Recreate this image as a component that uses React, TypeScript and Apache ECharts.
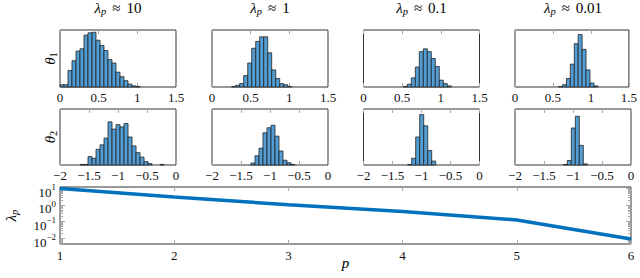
import React, { useEffect, useRef } from 'react';
import * as echarts from 'echarts';

// ---------- data ----------
const TITLE_VALUES = ['10', '1', '0.1', '0.01'];

const THETA1_BIN_WIDTH = 0.0517;
const THETA2_BIN_WIDTH = 0.069;
const THETA1_START = [0, 0.255, 0.515, 0.574];
const THETA2_START = [-1.655, -1.328, -1.238, -1.167];

const THETA1_COUNTS = [
  [4, 4, 29, 46, 63, 67, 91, 95, 96, 82, 73, 64, 48, 42, 26, 18, 11, 5, 2, 1],
  [1, 3, 6, 20, 42, 68, 80, 88, 88, 60, 30, 15, 6, 4, 1],
  [1, 5, 16, 35, 62, 67, 62, 50, 36, 12, 6, 2],
  [1, 4, 15, 40, 76, 92, 66, 30, 7, 2],
];
const THETA2_COUNTS = [
  [1, 1, 15, 12, 28, 36, 48, 77, 64, 72, 68, 74, 50, 34, 22, 14, 6, 2.5, 0, 0, 1],
  [3.5, 16.5, 30, 57.5, 66.5, 71, 51.5, 25, 8.5, 4, 1],
  [1, 12, 50, 90, 70, 26, 7],
  [1, 8, 66, 87, 35, 2],
];

const P_VALUES = [1, 2, 3, 4, 5, 6];
const LAMBDA = [9.6, 2.93, 1.0, 0.39, 0.123, 0.0087];

// ---------- style ----------
const SERIF = 'Liberation Serif';
const TXT = '#111';
const FRAME = '#333';
const TICK = '#a8a8a8';
const BAR = '#529dd4';
const LINE = '#0072bd';

const COL_LEFT = [60, 212, 363.5, 515];
const PANEL_W = 116;
const ROWS = [
  { top: 30, height: 57 },
  { top: 109, height: 56 },
];
const BOTTOM = { left: 60, top: 187, width: 571, height: 57 };
const LOG_MIN = 0.00437;
const LOG_MAX = 11.8;

const fmtNum = (v: number) => (v < 0 ? '\u2212' + String(Math.abs(v)) : String(v));

const richMath = {
  i: { fontFamily: SERIF, fontStyle: 'italic', fontSize: 15, lineHeight: 16, verticalAlign: 'top', color: TXT },
  s: { fontFamily: SERIF, fontStyle: 'italic', fontSize: 10.5, lineHeight: 10, padding: [6, 0, 0, 0], verticalAlign: 'top', color: TXT },
  n: { fontFamily: SERIF, fontSize: 10.5, lineHeight: 10, padding: [6, 0, 0, 0], verticalAlign: 'top', color: TXT },
  q: { fontFamily: SERIF, fontSize: 15, lineHeight: 16, padding: [0, 6, 0, 6], verticalAlign: 'top', color: TXT },
  r: { fontFamily: SERIF, fontSize: 15, lineHeight: 16, verticalAlign: 'top', color: TXT },
};

export default function App() {
  const ref = useRef<HTMLDivElement>(null);

  useEffect(() => {
    if (!ref.current) return;
    const chart = echarts.init(ref.current, undefined, { renderer: 'svg' });

    const grids: any[] = [];
    const xAxes: any[] = [];
    const yAxes: any[] = [];
    const series: any[] = [];

    const tickStyle = { show: true, inside: true, length: 4, lineStyle: { color: TICK, width: 1 } };
    const labelStyle = { fontFamily: SERIF, fontSize: 13, lineHeight: 12, color: TXT };

    const histRender = (params: any, api: any) => {
      const x0 = api.value(0);
      const x1 = api.value(1);
      const h = api.value(2);
      if (!h) return null;
      const a = api.coord([x0, h]);
      const b = api.coord([x1, 0]);
      return {
        type: 'rect',
        shape: { x: a[0], y: a[1], width: b[0] - a[0], height: b[1] - a[1] },
        style: { fill: BAR, stroke: '#222', lineWidth: 0.8 },
      };
    };

    for (let r = 0; r < 2; r++) {
      for (let c = 0; c < 4; c++) {
        const gi = r * 4 + c;
        grids.push({
          left: COL_LEFT[c],
          top: ROWS[r].top,
          width: PANEL_W,
          height: ROWS[r].height,
          show: true,
          borderColor: FRAME,
          borderWidth: 1,
          backgroundColor: 'transparent',
          containLabel: false,
        });
        const min = r === 0 ? 0 : -2;
        const max = r === 0 ? 1.5 : 0;
        xAxes.push({
          type: 'value',
          gridIndex: gi,
          position: 'bottom',
          min,
          max,
          interval: 0.5,
          axisLine: { show: false },
          axisTick: tickStyle,
          splitLine: { show: false },
          axisLabel: {
            show: true,
            margin: 4,
            ...labelStyle,
            formatter: (v: number) => fmtNum(v),
            showMinLabel: true,
            showMaxLabel: true,
          },
        });
        xAxes.push({
          type: 'value',
          gridIndex: gi,
          position: 'top',
          min,
          max,
          interval: 0.5,
          axisLine: { show: false },
          axisTick: tickStyle,
          splitLine: { show: false },
          axisLabel: { show: false },
        });
        yAxes.push({
          type: 'value',
          gridIndex: gi,
          min: 0,
          max: 100,
          show: false,
          splitLine: { show: false },
        });
        const start = r === 0 ? THETA1_START[c] : THETA2_START[c];
        const w = r === 0 ? THETA1_BIN_WIDTH : THETA2_BIN_WIDTH;
        const counts = r === 0 ? THETA1_COUNTS[c] : THETA2_COUNTS[c];
        series.push({
          type: 'custom',
          xAxisIndex: gi * 2,
          yAxisIndex: gi,
          renderItem: histRender,
          encode: { x: [0, 1], y: 2 },
          data: counts.map((h, i) => [start + i * w, start + (i + 1) * w, h]),
          silent: true,
        });
      }
    }

    // bottom lambda plot
    const gb = 8;
    grids.push({
      left: BOTTOM.left,
      top: BOTTOM.top,
      width: BOTTOM.width,
      height: BOTTOM.height,
      show: true,
      borderColor: FRAME,
      borderWidth: 1,
      backgroundColor: 'transparent',
      containLabel: false,
    });
    xAxes.push({
      type: 'value',
      gridIndex: gb,
      position: 'bottom',
      min: 1,
      max: 6,
      interval: 1,
      axisLine: { show: false },
      axisTick: tickStyle,
      splitLine: { show: false },
      axisLabel: { margin: 5, ...labelStyle, showMinLabel: true, showMaxLabel: true },
    });
    xAxes.push({
      type: 'value',
      gridIndex: gb,
      position: 'top',
      min: 1,
      max: 6,
      interval: 1,
      axisLine: { show: false },
      axisTick: tickStyle,
      splitLine: { show: false },
      axisLabel: { show: false },
    });
    yAxes.push({
      type: 'log',
      logBase: 10,
      gridIndex: gb,
      min: LOG_MIN,
      max: LOG_MAX,
      axisLine: { show: false },
      axisTick: { show: false },
      splitLine: { show: false },
      minorTick: { show: false },
      axisLabel: {
        margin: 4,
        formatter: (v: number) => {
          const l = Math.log10(v);
          const e = Math.round(l);
          if (Math.abs(l - e) > 1e-6) return '';
          return `{b|10}{e|${e < 0 ? '\u2212' + Math.abs(e) : e}}`;
        },
        rich: {
          b: { fontFamily: SERIF, fontSize: 13, lineHeight: 11, padding: [3, 0, 0, 0], verticalAlign: 'top', color: TXT },
          e: { fontFamily: SERIF, fontSize: 9, lineHeight: 8, verticalAlign: 'top', color: TXT },
        },
      },
    });
    series.push({
      type: 'line',
      xAxisIndex: 16,
      yAxisIndex: gb,
      data: P_VALUES.map((p, i) => [p, LAMBDA[i]]),
      showSymbol: false,
      lineStyle: { color: LINE, width: 3.5 },
      silent: true,
    });

    // log-axis ticks (major + minor) on both sides
    const logTicks: number[][] = [];
    for (let j = -3; j <= 1; j++) {
      for (let k = 1; k <= 9; k++) {
        const v = k * Math.pow(10, j);
        if (v >= LOG_MIN && v <= LOG_MAX) logTicks.push([1, v, k === 1 ? 5 : 3]);
      }
    }
    series.push({
      type: 'custom',
      xAxisIndex: 16,
      yAxisIndex: gb,
      silent: true,
      encode: { x: 0, y: 1 },
      data: logTicks,
      renderItem: (params: any, api: any) => {
        const v = api.value(1);
        const len = api.value(2);
        const a = api.coord([1, v]);
        const b = api.coord([6, v]);
        const y = Math.round(a[1]) + 0.5;
        return {
          type: 'group',
          children: [
            { type: 'line', shape: { x1: a[0], y1: y, x2: a[0] + len, y2: y }, style: { stroke: TICK, lineWidth: 1 } },
            { type: 'line', shape: { x1: b[0] - len, y1: y, x2: b[0], y2: y }, style: { stroke: TICK, lineWidth: 1 } },
          ],
        };
      },
    });

    const graphics: any[] = [];
    TITLE_VALUES.forEach((v, c) => {
      graphics.push({
        type: 'text',
        x: COL_LEFT[c] + PANEL_W / 2,
        y: 8,
        style: {
          text: `{i|λ}{s|p}{q|≈}{r|${v}}`,
          rich: richMath,
          align: 'center',
          verticalAlign: 'middle',
        },
      });
    });
    [1, 2].forEach((k, r) => {
      graphics.push({
        type: 'text',
        x: 50,
        y: ROWS[r].top + ROWS[r].height / 2,
        rotation: Math.PI / 2,
        style: {
          text: `{i|θ}{n|${k}}`,
          rich: richMath,
          align: 'center',
          verticalAlign: 'middle',
        },
      });
    });
    graphics.push({
      type: 'text',
      x: 11,
      y: BOTTOM.top + BOTTOM.height / 2,
      rotation: Math.PI / 2,
      style: { text: '{i|λ}{s|p}', rich: richMath, align: 'center', verticalAlign: 'middle' },
    });
    graphics.push({
      type: 'text',
      x: BOTTOM.left + BOTTOM.width / 2,
      y: 263,
      style: { text: '{i|p}', rich: richMath, align: 'center', verticalAlign: 'middle' },
    });

    chart.setOption({
      animation: false,
      backgroundColor: '#fff',
      grid: grids,
      xAxis: xAxes,
      yAxis: yAxes,
      series,
      graphic: graphics,
    });

    return () => chart.dispose();
  }, []);

  return <div ref={ref} style={{ position: 'fixed', left: 0, top: 0, width: 640, height: 278 }} />;
}
